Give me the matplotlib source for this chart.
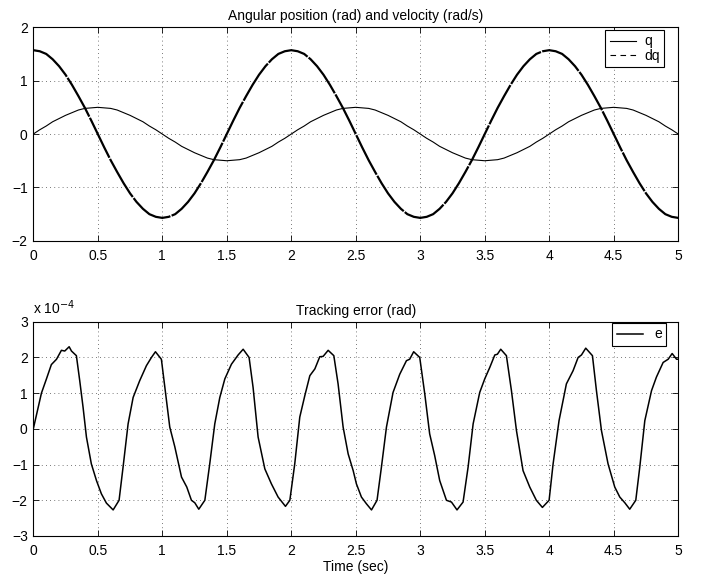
import matplotlib
matplotlib.use('Agg')
import matplotlib.pyplot as plt
from matplotlib.lines import Line2D

plt.rcParams['font.family'] = ['Liberation Sans', 'DejaVu Sans']
plt.rcParams['font.size'] = 10

# Top panel: angular position and velocity, sampled every 0.05 s
t = [i * 0.05 for i in range(101)]
q = [0, .08, .15, .23, .29, .35, .40, .45, .48, .49, .50, .49, .48, .45, .40, .35, .29, .23, .15, .08,
     0, -.08, -.15, -.23, -.29, -.35, -.40, -.45, -.48, -.49, -.50, -.49, -.48, -.45, -.40, -.35, -.29, -.23, -.15, -.08,
     0, .08, .15, .23, .29, .35, .40, .45, .48, .49, .50, .49, .48, .45, .40, .35, .29, .23, .15, .08,
     0, -.08, -.15, -.23, -.29, -.35, -.40, -.45, -.48, -.49, -.50, -.49, -.48, -.45, -.40, -.35, -.29, -.23, -.15, -.08,
     0, .08, .15, .23, .29, .35, .40, .45, .48, .49, .50, .49, .48, .45, .40, .35, .29, .23, .15, .08, 0]
dq = [1.57, 1.55, 1.50, 1.40, 1.27, 1.11, .92, .71, .49, .25, 0, -.25, -.49, -.71, -.92, -1.11, -1.27, -1.40, -1.50, -1.55,
      -1.57, -1.55, -1.50, -1.40, -1.27, -1.11, -.92, -.71, -.49, -.25, 0, .25, .49, .71, .92, 1.11, 1.27, 1.40, 1.50, 1.55,
      1.57, 1.55, 1.50, 1.40, 1.27, 1.11, .92, .71, .49, .25, 0, -.25, -.49, -.71, -.92, -1.11, -1.27, -1.40, -1.50, -1.55,
      -1.57, -1.55, -1.50, -1.40, -1.27, -1.11, -.92, -.71, -.49, -.25, 0, .25, .49, .71, .92, 1.11, 1.27, 1.40, 1.50, 1.55,
      1.57, 1.55, 1.50, 1.40, 1.27, 1.11, .92, .71, .49, .25, 0, -.25, -.49, -.71, -.92, -1.11, -1.27, -1.40, -1.50, -1.55, -1.57]

# Bottom panel: tracking error (units of 1e-4 rad)
te = [0.0, 0.038, 0.063, 0.102, 0.14, 0.18, 0.218, 0.244, 0.278, 0.296, 0.334, 0.36, 0.386, 0.412, 0.45, 0.49,
      0.528, 0.567, 0.619, 0.665, 0.696, 0.735, 0.774, 0.825, 0.877, 0.916, 0.947, 0.993, 1.02, 1.058, 1.097,
      1.149, 1.19, 1.226, 1.252, 1.283, 1.33, 1.368, 1.407, 1.446, 1.485, 1.536, 1.588, 1.627, 1.673, 1.704,
      1.743, 1.795, 1.846, 1.898, 1.955, 1.989, 2.027, 2.066, 2.105, 2.144, 2.183, 2.221, 2.247, 2.286, 2.33,
      2.363, 2.402, 2.441, 2.48, 2.505, 2.544, 2.583, 2.622, 2.665, 2.699, 2.738, 2.789, 2.841, 2.893, 2.918,
      2.949, 2.996, 3.035, 3.073, 3.112, 3.151, 3.203, 3.242, 3.285, 3.332, 3.371, 3.41, 3.461, 3.5, 3.539,
      3.578, 3.598, 3.624, 3.668, 3.707, 3.746, 3.771, 3.797, 3.849, 3.9, 3.947, 3.999, 4.03, 4.076, 4.133,
      4.185, 4.224, 4.25, 4.283, 4.335, 4.366, 4.405, 4.456, 4.508, 4.547, 4.586, 4.624, 4.671, 4.702, 4.741,
      4.793, 4.831, 4.883, 4.922, 4.953, 4.987, 5.0]
e = [0.0, 0.6, 1.0, 1.4, 1.8, 1.95, 2.2, 2.18, 2.3, 2.18, 2.05, 1.35, 0.6, -0.23, -0.98, -1.45,
     -1.82, -2.08, -2.27, -2.0, -1.07, 0.14, 0.88, 1.35, 1.77, 2.0, 2.16, 1.95, 1.16, 0.05, -0.5,
     -1.35, -1.63, -2.0, -2.07, -2.25, -2.0, -0.98, 0.14, 0.88, 1.4, 1.81, 2.07, 2.23, 2.0, 1.16,
     -0.23, -1.12, -1.54, -1.91, -2.17, -2.0, -0.98, 0.33, 0.93, 1.49, 1.68, 2.02, 2.03, 2.2, 2.05,
     1.26, 0.05, -0.7, -1.17, -1.54, -1.91, -2.1, -2.27, -2.0, -1.07, 0.05, 1.02, 1.53, 1.91, 1.95,
     2.16, 2.0, 0.98, -0.14, -0.75, -1.45, -2.0, -2.05, -2.27, -2.05, -1.07, 0.14, 1.02, 1.4, 1.72,
     2.07, 2.09, 2.23, 2.05, 1.07, -0.05, -0.6, -1.17, -1.63, -2.0, -2.2, -2.0, -0.98, 0.23, 1.26,
     1.63, 2.0, 2.07, 2.26, 2.05, 1.07, -0.05, -0.98, -1.63, -1.91, -2.07, -2.25, -2.0, -1.07, 0.23,
     1.07, 1.45, 1.86, 1.95, 2.11, 1.95, 1.95]

xticks = [0, 0.5, 1, 1.5, 2, 2.5, 3, 3.5, 4, 4.5, 5]
xticklabels = ['0', '0.5', '1', '1.5', '2', '2.5', '3', '3.5', '4', '4.5', '5']


def matlab_axes(ax):
    ax.set_xlim(0, 5)
    ax.set_xticks(xticks)
    ax.set_xticklabels(xticklabels)
    ax.grid(True, linestyle=(0, (1, 4)), color='k', linewidth=0.6, alpha=0.7)
    ax.tick_params(direction='in', top=True, right=True, length=4, width=0.6)
    ax.tick_params(axis='x', pad=6)
    ax.tick_params(axis='y', pad=4)
    for s in ax.spines.values():
        s.set_linewidth(0.8)


fig = plt.figure(figsize=(7.01, 5.79), dpi=100)
ax1 = fig.add_axes([0.0475, 0.584, 0.92, 0.369])
ax2 = fig.add_axes([0.0475, 0.0743, 0.92, 0.370])

line_q, = ax1.plot(t, q, color='k', linewidth=0.8)
ax1.plot(t, dq, color='k', linewidth=1.6, linestyle=(0, (20, 0.6)))
matlab_axes(ax1)
ax1.set_ylim(-2, 2)
ax1.set_yticks([-2, -1, 0, 1, 2])
ax1.set_yticklabels(['\u22122', '\u22121', '0', '1', '2'])
ax1.set_title('Angular position (rad) and velocity (rad/s)', fontsize=10, pad=5)
leg1 = ax1.legend([line_q, Line2D([], [], color='k', lw=0.8, ls=(0, (5, 4)))], ['q', 'dq'],
                  loc='upper right', bbox_to_anchor=(0.978, 0.986), borderaxespad=0,
                  fancybox=False, edgecolor='k', framealpha=1,
                  handlelength=1.9, handletextpad=0.6, borderpad=0.3, labelspacing=0.05)
leg1.get_frame().set_linewidth(0.8)

ax2.plot(te, e, color='k', linewidth=1.1, label='e')
matlab_axes(ax2)
ax2.set_ylim(-3, 3)
ax2.set_yticks([-3, -2, -1, 0, 1, 2, 3])
ax2.set_yticklabels(['\u22123', '\u22122', '\u22121', '0', '1', '2', '3'])
ax2.set_title('Tracking error (rad)', fontsize=10, pad=5)
ax2.set_xlabel('Time (sec)', labelpad=1)
ax2.text(0, 1.02, 'x 10$^{\u22124}$', transform=ax2.transAxes, fontsize=10, va='bottom')
leg2 = ax2.legend(loc='upper right', bbox_to_anchor=(0.981, 0.993), borderaxespad=0,
                  fancybox=False, edgecolor='k', framealpha=1,
                  handlelength=1.9, handletextpad=0.8, borderpad=0.3)
leg2.get_frame().set_linewidth(0.8)

fig.savefig('out.png', dpi=100)
